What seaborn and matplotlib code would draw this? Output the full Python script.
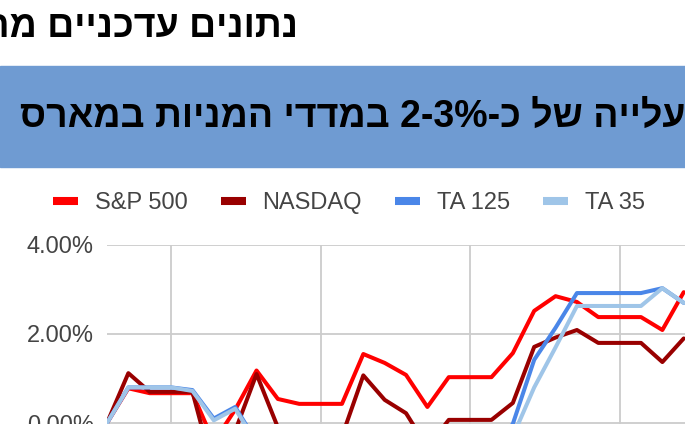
import re

import numpy as np
import pandas as pd
import matplotlib
matplotlib.use("Agg")
import matplotlib.pyplot as plt
from matplotlib.lines import Line2D
from matplotlib.patches import Rectangle
from matplotlib.ticker import FuncFormatter
import seaborn as sns

# cumulative change since 1 March, in %, one value per calendar day
# (weekends / closed days carry the last close)
dates = pd.date_range("2023-03-01", "2023-03-28", freq="D")
sp500 = [0.0, 0.78, 0.67, 0.67, 0.67, -0.43, 0.30, 1.18, 0.54, 0.43,
         0.43, 0.43, 1.55, 1.35, 1.08, 0.36, 1.03, 1.03, 1.03, 1.57,
         2.52, 2.85, 2.72, 2.38, 2.38, 2.38, 2.09, 2.94]
nasdaq = [0.0, 1.12, 0.70, 0.70, 0.70, -1.10, -0.18, 1.10, -0.10, -0.30,
          -0.30, -0.30, 1.07, 0.52, 0.22, -0.55, 0.07, 0.07, 0.07, 0.45,
          1.71, 1.92, 2.09, 1.80, 1.80, 1.80, 1.37, 1.90]
ta125 = [0.0, 0.80, 0.80, 0.80, 0.74, 0.10, 0.36, -0.42, -0.70, -0.70,
         -0.70, -0.90, -0.60, -0.80, -1.00, -0.90, -0.90, -0.90, -0.60, -0.02,
         1.42, 2.14, 2.92, 2.92, 2.92, 2.92, 3.03, 2.70]
ta35 = [0.0, 0.80, 0.80, 0.80, 0.72, 0.06, 0.32, -0.45, -0.80, -0.80,
        -0.80, -1.00, -0.70, -0.90, -1.10, -1.00, -1.00, -1.00, -0.80, -0.30,
        0.80, 1.70, 2.63, 2.63, 2.63, 2.63, 3.03, 2.70]

series_names = ["S&P 500", "NASDAQ", "TA 125", "TA 35"]
colors = ["#ff0000", "#990000", "#4a86e8", "#9fc5e8"]
y_ticks = [0, 2, 4]
grid_days = [3, 10, 17, 24]

title = "נתונים עדכניים מר"
banner = "עלייה של כ-2-3% במדדי המניות במארס"


def visual(s):
    # matplotlib has no bidi support: flip the hebrew, keep numbers LTR
    flipped = s[::-1]
    return re.sub(r"[\d%][\d%.\-]*\d", lambda m: m.group(0)[::-1], flipped)


sns.set_theme(style="white")
plt.rcParams["font.family"] = ["Liberation Sans", "DejaVu Sans"]

df = pd.DataFrame({"date": dates, "S&P 500": sp500, "NASDAQ": nasdaq,
                   "TA 125": ta125, "TA 35": ta35})
long_df = df.melt(id_vars="date", var_name="index", value_name="change")

fig = plt.figure(figsize=(6.85, 4.24), dpi=100)

# blue banner behind the subtitle
fig.patches.append(Rectangle((0, 1 - 167 / 424), 1, 101 / 424,
                             transform=fig.transFigure, color="#6f9bd2",
                             zorder=0))
fig.text(298 / 685, 1 - 27 / 424, visual(title), ha="right", va="center",
         fontsize=27, fontweight="bold", color="black")
fig.text(20 / 685, 1 - 117 / 424, visual(banner), ha="left", va="center",
         fontsize=27, fontweight="bold", color="black")

# the chart continues below the visible crop
ax = fig.add_axes([107 / 685, 1 - 512 / 424, 640.8 / 685, 267 / 424])
sns.lineplot(data=long_df, x="date", y="change", hue="index",
             hue_order=series_names, palette=colors, linewidth=2.9,
             legend=False, sort=False, ax=ax)

ax.set_xlim(dates[0], dates[0] + pd.Timedelta(days=30))
ax.set_ylim(-2, 4)
ax.set_yticks(y_ticks)
ax.yaxis.set_major_formatter(FuncFormatter(lambda v, _: "{:.2f}%".format(v)))
# weekly gridlines; their date labels fall below the crop
ax.set_xticks(dates[grid_days])
ax.set_xticklabels([])
ax.set_xlabel("")
ax.set_ylabel("")
ax.grid(True, color="#cccccc", linewidth=1.3)
ax.set_axisbelow(True)
for side in ax.spines:
    ax.spines[side].set_visible(False)
ax.tick_params(length=0, pad=9.4, labelsize=17, labelcolor="#444444")

handles = [Line2D([], [], color=c, lw=5.8, solid_capstyle="butt")
           for c in colors]
fig.legend(handles, series_names, ncol=4, loc="center",
           bbox_to_anchor=(349 / 685, 1 - 203 / 424), frameon=False,
           fontsize=17, handlelength=1.05, handletextpad=0.72,
           columnspacing=1.4, labelcolor="#444444", borderpad=0)

fig.savefig("out.png", dpi=100)
